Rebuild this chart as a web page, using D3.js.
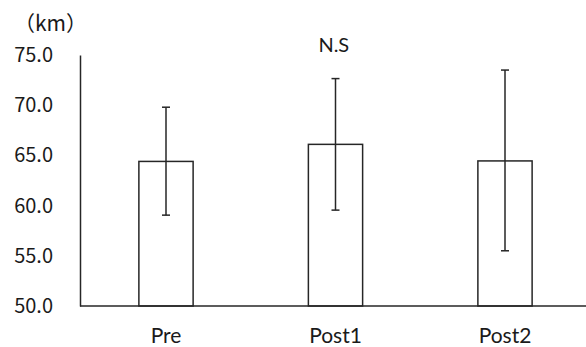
<!DOCTYPE html>
<html><head><meta charset="utf-8">
<script src="https://cdn.jsdelivr.net/npm/d3@7"></script>
<style>body{margin:0;background:#fff;} svg{display:block;}</style>
</head><body>
<script>
const categories = ["Pre", "Post1", "Post2"];
const means = [64.4, 66.1, 64.45];
const errUpper = [69.8, 72.65, 73.5];
const errLower = [59.05, 59.55, 55.5];
const yTicks = [50, 55, 60, 65, 70, 75];
const unitLabel = "（km）";
const sigLabel = "N.S";

const W = 586, H = 347;
const svg = d3.select("body").append("svg").attr("width", W).attr("height", H);

const y = d3.scaleLinear().domain([50, 75]).range([306, 55]);
const x = d3.scaleBand().domain(categories).range([81.25, 589.75]).paddingInner(0.68).paddingOuter(0.34);

const numFont = "'Noto Sans CJK JP', 'Noto Sans', sans-serif";
const latFont = "Lato, 'Noto Sans', sans-serif";

// y axis
const yAxis = d3.axisLeft(y).tickValues(yTicks).tickFormat(d3.format(".1f")).tickSize(0).tickPadding(27);
const gy = svg.append("g").attr("transform", "translate(80,0)").call(yAxis);
gy.select(".domain").attr("stroke", "#262626").attr("stroke-width", 1.5);
gy.selectAll("text").attr("font-family", numFont).attr("font-size", 20).attr("fill", "#1a1a1a");

// bars
svg.selectAll("rect.bar").data(categories).enter().append("rect")
  .attr("class", "bar")
  .attr("x", d => x(d))
  .attr("y", (d, i) => y(means[i]))
  .attr("width", x.bandwidth())
  .attr("height", (d, i) => y(50) - y(means[i]))
  .attr("fill", "#fff").attr("stroke", "#262626").attr("stroke-width", 1.5);

// x axis baseline
const xAxis = d3.axisBottom(x).tickSize(0).tickPadding(22);
const gx = svg.append("g").attr("transform", `translate(0,${y(50)})`).call(xAxis);
gx.select(".domain").attr("d", `M80,0H586`).attr("stroke", "#262626").attr("stroke-width", 1.5);
gx.selectAll("text").attr("font-family", latFont).attr("font-size", 21).attr("fill", "#1a1a1a");

// error bars
const cap = 4;
const eg = svg.append("g").attr("stroke", "#262626").attr("stroke-width", 1.5);
categories.forEach((c, i) => {
  const cx = x(c) + x.bandwidth() / 2;
  eg.append("line").attr("x1", cx).attr("x2", cx).attr("y1", y(errUpper[i])).attr("y2", y(errLower[i]));
  eg.append("line").attr("x1", cx - cap).attr("x2", cx + cap).attr("y1", y(errUpper[i])).attr("y2", y(errUpper[i]));
  eg.append("line").attr("x1", cx - cap).attr("x2", cx + cap).attr("y1", y(errLower[i])).attr("y2", y(errLower[i]));
});

// labels
svg.append("text").attr("x", 50.5).attr("y", 31).attr("text-anchor", "middle")
  .attr("font-family", numFont).attr("font-size", 21).attr("fill", "#1a1a1a").text(unitLabel);
svg.append("text").attr("x", 333.8).attr("y", 51.7).attr("text-anchor", "middle")
  .attr("font-family", latFont).attr("font-size", 20).attr("fill", "#1a1a1a").text(sigLabel);
</script>
</body></html>
